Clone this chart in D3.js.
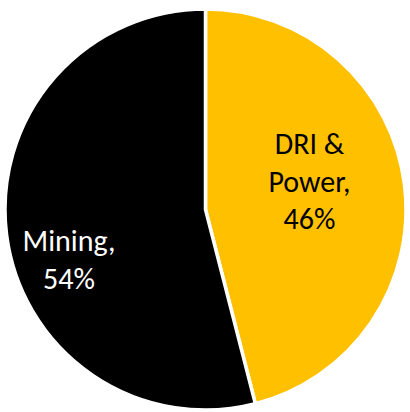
<!DOCTYPE html>
<html><head><meta charset="utf-8">
<script src="https://cdn.jsdelivr.net/npm/d3@7"></script>
<style>html,body{margin:0;padding:0;background:#fff;}svg{display:block;}</style>
</head><body>
<svg id="c" width="410" height="412"></svg>
<script>
const categories = ["DRI & Power", "Mining"];
const values = [46, 54];
const labelLines = [["DRI &", "Power,", "46%"], ["Mining,", "54%"]];
const colors = ["#FFC000", "#000000"];
const textColors = ["#000000", "#FFFFFF"];

const svg = d3.select("#c");
const cx = 205.5, cy = 209.5, r = 200.5;
const g = svg.append("g").attr("transform", `translate(${cx},${cy})`);
const pie = d3.pie().sort(null).value(d => d)(values);
const arc = d3.arc().innerRadius(0).outerRadius(r);
g.selectAll("path").data(pie).join("path")
  .attr("d", arc)
  .attr("fill", (d, i) => colors[i])
  .attr("stroke", "#fff")
  .attr("stroke-width", 3.5)
  .attr("stroke-linejoin", "round");

const labelPos = [[104, -18], [-136.5, 60.5]];
const lh = 37.5;
pie.forEach((d, i) => {
  const lines = labelLines[i];
  const t = g.append("text")
    .attr("text-anchor", "middle")
    .attr("font-family", "Carlito, Lato, 'Open Sans', sans-serif")
    .attr("font-size", 30)
    .attr("fill", textColors[i]);
  const y0 = labelPos[i][1] - (lines.length - 1) * lh / 2;
  lines.forEach((ln, j) => {
    t.append("tspan").attr("x", labelPos[i][0]).attr("y", y0 + j * lh).text(ln);
  });
});
</script>
</body></html>
